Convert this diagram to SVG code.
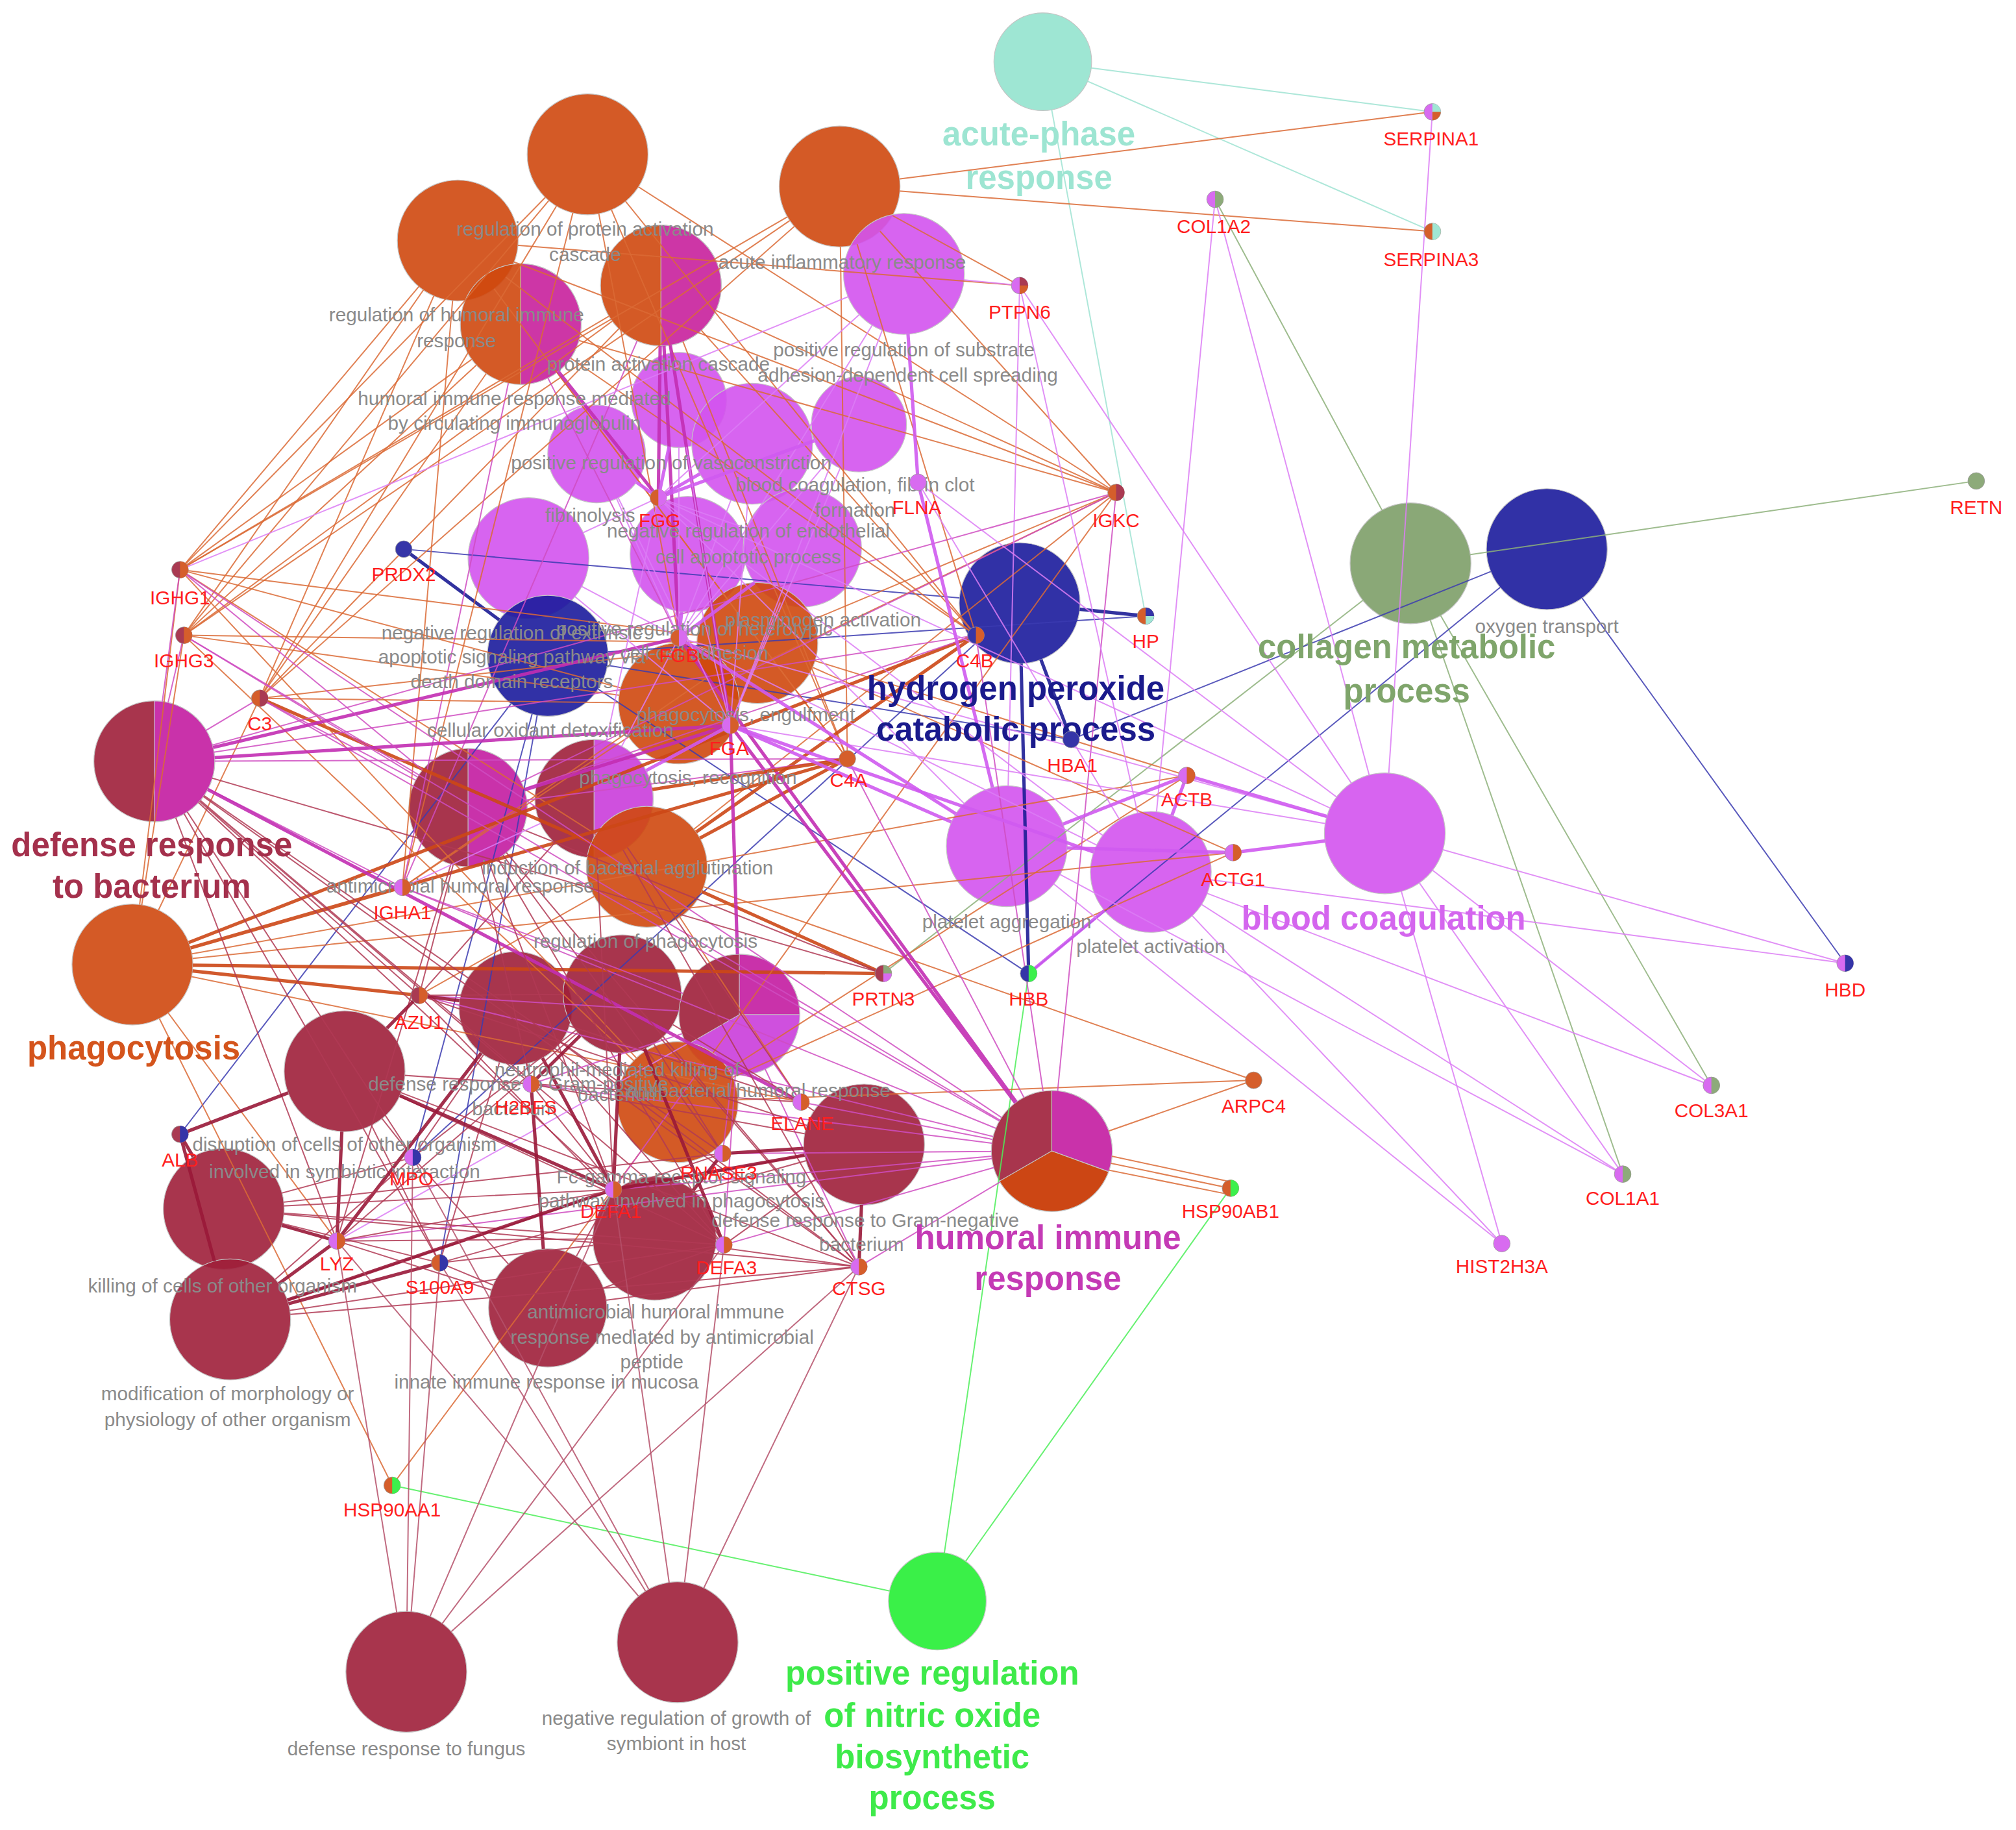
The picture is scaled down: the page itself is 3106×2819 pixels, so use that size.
<svg xmlns="http://www.w3.org/2000/svg" width="3106" height="2819" viewBox="0 0 3106 2819">
<style>
.e{fill:none;stroke-linecap:round;stroke-opacity:.85}
.te,.gg,.bg,.nv,.or,.mg,.vi,.dr,.dl{stroke-width:1}
.NV,.OR,.MG,.VI,.DR{stroke-width:2.6;stroke-opacity:.9}
.te{stroke:#9FE3D2}.gg{stroke:#8DB07A}.bg{stroke:#4BEF58}.nv{stroke:#3B3BB0}.NV{stroke:#1C1C95}
.or{stroke:#DA6A35}.OR{stroke:#CC4716}.mg{stroke:#CF4CC1}.MG{stroke:#C22DB3}
.vi{stroke:#DC7DF4}.VI{stroke:#CF5AF0}.dr{stroke:#B03A55}.DR{stroke:#991838}.dl{stroke:#B5506A}
.n{stroke:#c4c4c4;stroke-width:.6;fill-opacity:.9}
.s{stroke:#9a9a9a;stroke-width:.4}
.FO{fill:#CF480E}.FD{fill:#9E1F3A}.FV{fill:#D353EE}.FM{fill:#CC32B5}.FN{fill:#1B1B9C}.FG{fill:#7D9E68}.FT{fill:#93E3CE}.FB{fill:#25EE34}
.co{fill:#D55E2B}.cd{fill:#A93A52}.cv{fill:#D86BF0}.cn{fill:#3535A8}.cg{fill:#8DAA7A}.ct{fill:#A0E6D3}.cb{fill:#3CF04C}
.go{font-family:"Liberation Sans",Arial,sans-serif;font-size:15px;fill:#8a8a8a;text-anchor:middle}
.gn{font-family:"Liberation Sans",Arial,sans-serif;font-size:15px;fill:#FF1E1E;text-anchor:middle}
.big{font-family:"Liberation Sans",Arial,sans-serif;font-size:25.7px;font-weight:bold;text-anchor:middle}
</style>
<defs>
<path id="rh" d="M0 -6.5A6.5 6.5 0 0 1 0 6.5Z"/>
<path id="bq" d="M0 0L6.5 0A6.5 6.5 0 0 1 0 6.5Z"/>
<rect id="W" width="1570" height="1425" fill="#fff"/>
<mask id="mACU" maskUnits="userSpaceOnUse" x="0" y="0" width="1570" height="1425"><use href="#W"/><circle cx="811" cy="48" r="38"/></mask>
<mask id="mCOLL" maskUnits="userSpaceOnUse" x="0" y="0" width="1570" height="1425"><use href="#W"/><circle cx="1097" cy="438" r="47"/></mask>
<mask id="mGRN" maskUnits="userSpaceOnUse" x="0" y="0" width="1570" height="1425"><use href="#W"/><circle cx="729" cy="1245" r="38"/></mask>
<mask id="mB3" maskUnits="userSpaceOnUse" x="0" y="0" width="1570" height="1425"><use href="#W"/><circle cx="1203" cy="427" r="47"/></mask>
<mask id="mB2" maskUnits="userSpaceOnUse" x="0" y="0" width="1570" height="1425"><use href="#W"/><circle cx="793" cy="469" r="47"/></mask>
<mask id="mB1" maskUnits="userSpaceOnUse" x="0" y="0" width="1570" height="1425"><use href="#W"/><circle cx="426" cy="510" r="47"/></mask>
<mask id="mO1" maskUnits="userSpaceOnUse" x="0" y="0" width="1570" height="1425"><use href="#W"/><circle cx="457" cy="120" r="47"/></mask>
<mask id="mO2" maskUnits="userSpaceOnUse" x="0" y="0" width="1570" height="1425"><use href="#W"/><circle cx="356" cy="187" r="47"/></mask>
<mask id="mO3" maskUnits="userSpaceOnUse" x="0" y="0" width="1570" height="1425"><use href="#W"/><circle cx="653" cy="145" r="47"/></mask>
<mask id="mH1" maskUnits="userSpaceOnUse" x="0" y="0" width="1570" height="1425"><use href="#W"/><circle cx="405" cy="252" r="47"/></mask>
<mask id="mH2" maskUnits="userSpaceOnUse" x="0" y="0" width="1570" height="1425"><use href="#W"/><circle cx="514" cy="222" r="47"/></mask>
<mask id="mO4" maskUnits="userSpaceOnUse" x="0" y="0" width="1570" height="1425"><use href="#W"/><circle cx="589" cy="500" r="47"/></mask>
<mask id="mO5" maskUnits="userSpaceOnUse" x="0" y="0" width="1570" height="1425"><use href="#W"/><circle cx="528" cy="547" r="47"/></mask>
<mask id="mO6" maskUnits="userSpaceOnUse" x="0" y="0" width="1570" height="1425"><use href="#W"/><circle cx="503" cy="674" r="47"/></mask>
<mask id="mO7" maskUnits="userSpaceOnUse" x="0" y="0" width="1570" height="1425"><use href="#W"/><circle cx="103" cy="750" r="47"/></mask>
<mask id="mO8" maskUnits="userSpaceOnUse" x="0" y="0" width="1570" height="1425"><use href="#W"/><circle cx="527" cy="857" r="47"/></mask>
<mask id="mD13" maskUnits="userSpaceOnUse" x="0" y="0" width="1570" height="1425"><use href="#W"/><circle cx="818" cy="895" r="47"/></mask>
<mask id="mD1" maskUnits="userSpaceOnUse" x="0" y="0" width="1570" height="1425"><use href="#W"/><circle cx="120" cy="592" r="47"/></mask>
<mask id="mD2" maskUnits="userSpaceOnUse" x="0" y="0" width="1570" height="1425"><use href="#W"/><circle cx="364" cy="628" r="46"/></mask>
<mask id="mD3" maskUnits="userSpaceOnUse" x="0" y="0" width="1570" height="1425"><use href="#W"/><circle cx="462" cy="621" r="46"/></mask>
<mask id="mD6" maskUnits="userSpaceOnUse" x="0" y="0" width="1570" height="1425"><use href="#W"/><circle cx="575" cy="789" r="47"/></mask>
<mask id="mV11" maskUnits="userSpaceOnUse" x="0" y="0" width="1570" height="1425"><use href="#W"/><circle cx="1077" cy="648" r="47"/></mask>
<mask id="mV10" maskUnits="userSpaceOnUse" x="0" y="0" width="1570" height="1425"><use href="#W"/><circle cx="895" cy="678" r="47"/></mask>
<mask id="mV9" maskUnits="userSpaceOnUse" x="0" y="0" width="1570" height="1425"><use href="#W"/><circle cx="783" cy="658" r="47"/></mask>
<mask id="mV1" maskUnits="userSpaceOnUse" x="0" y="0" width="1570" height="1425"><use href="#W"/><circle cx="703" cy="213" r="47"/></mask>
<mask id="mV2" maskUnits="userSpaceOnUse" x="0" y="0" width="1570" height="1425"><use href="#W"/><circle cx="668" cy="330" r="37"/></mask>
<mask id="mV3" maskUnits="userSpaceOnUse" x="0" y="0" width="1570" height="1425"><use href="#W"/><circle cx="528" cy="311" r="37"/></mask>
<mask id="mV4" maskUnits="userSpaceOnUse" x="0" y="0" width="1570" height="1425"><use href="#W"/><circle cx="585" cy="345" r="47"/></mask>
<mask id="mV5" maskUnits="userSpaceOnUse" x="0" y="0" width="1570" height="1425"><use href="#W"/><circle cx="464" cy="353" r="38"/></mask>
<mask id="mV6" maskUnits="userSpaceOnUse" x="0" y="0" width="1570" height="1425"><use href="#W"/><circle cx="411" cy="434" r="47"/></mask>
<mask id="mV7" maskUnits="userSpaceOnUse" x="0" y="0" width="1570" height="1425"><use href="#W"/><circle cx="535" cy="431" r="45"/></mask>
<mask id="mV8" maskUnits="userSpaceOnUse" x="0" y="0" width="1570" height="1425"><use href="#W"/><circle cx="624" cy="426" r="46"/></mask>
<mask id="mD4" maskUnits="userSpaceOnUse" x="0" y="0" width="1570" height="1425"><use href="#W"/><circle cx="401" cy="784" r="44"/></mask>
<mask id="mD5" maskUnits="userSpaceOnUse" x="0" y="0" width="1570" height="1425"><use href="#W"/><circle cx="484" cy="773" r="46"/></mask>
<mask id="mD7" maskUnits="userSpaceOnUse" x="0" y="0" width="1570" height="1425"><use href="#W"/><circle cx="268" cy="833" r="47"/></mask>
<mask id="mD8" maskUnits="userSpaceOnUse" x="0" y="0" width="1570" height="1425"><use href="#W"/><circle cx="174" cy="940" r="47"/></mask>
<mask id="mD9" maskUnits="userSpaceOnUse" x="0" y="0" width="1570" height="1425"><use href="#W"/><circle cx="179" cy="1026" r="47"/></mask>
<mask id="mD10" maskUnits="userSpaceOnUse" x="0" y="0" width="1570" height="1425"><use href="#W"/><circle cx="426" cy="1017" r="46"/></mask>
<mask id="mD11" maskUnits="userSpaceOnUse" x="0" y="0" width="1570" height="1425"><use href="#W"/><circle cx="509" cy="963" r="48"/></mask>
<mask id="mD12" maskUnits="userSpaceOnUse" x="0" y="0" width="1570" height="1425"><use href="#W"/><circle cx="672" cy="890" r="47"/></mask>
<mask id="mD14" maskUnits="userSpaceOnUse" x="0" y="0" width="1570" height="1425"><use href="#W"/><circle cx="316" cy="1300" r="47"/></mask>
<mask id="mD15" maskUnits="userSpaceOnUse" x="0" y="0" width="1570" height="1425"><use href="#W"/><circle cx="527" cy="1277" r="47"/></mask>
</defs>
<rect width="3106" height="2819" fill="#ffffff"/>
<g transform="scale(1.981)">
<g id="go-nodes">
<g id="go-acute-phase-response"><circle class="n FT" cx="811" cy="48" r="38"/></g>
<g id="go-regulation-of-protein-activation-cascade"><circle class="n FO" cx="457" cy="120" r="47"/></g>
<g id="go-regulation-of-humoral-immune-response"><circle class="n FO" cx="356" cy="187" r="47"/></g>
<g id="go-acute-inflammatory-response"><circle class="n FO" cx="653" cy="145" r="47"/></g>
<g id="go-humoral-immune-response-mediated-by-circulating-immunoglobulin"><circle class="n FO" cx="405" cy="252" r="47"/><path class="n FM" d="M405 205A47 47 0 0 1 405 299Z"/></g>
<g id="go-protein-activation-cascade"><circle class="n FO" cx="514" cy="222" r="47"/><path class="n FM" d="M514 175A47 47 0 0 1 514 269Z"/></g>
<g id="go-positive-regulation-of-substrate-adhesion-dependent-cell-spreading"><circle class="n FV" cx="703" cy="213" r="47"/></g>
<g id="go-positive-regulation-of-vasoconstriction"><circle class="n FV" cx="528" cy="311" r="37"/></g>
<g id="go-blood-coagulation-fibrin-clot-formation"><circle class="n FV" cx="668" cy="330" r="37"/></g>
<g id="go-negative-regulation-of-endothelial-cell-apoptotic-process"><circle class="n FV" cx="585" cy="345" r="47"/></g>
<g id="go-fibrinolysis"><circle class="n FV" cx="464" cy="353" r="38"/></g>
<g id="go-negative-regulation-of-extrinsic-apoptotic-signaling-pathway"><circle class="n FV" cx="411" cy="434" r="47"/></g>
<g id="go-positive-regulation-of-heterotypic-cell-cell-adhesion"><circle class="n FV" cx="535" cy="431" r="45"/></g>
<g id="go-plasminogen-activation"><circle class="n FV" cx="624" cy="426" r="46"/></g>
<g id="go-cellular-oxidant-detoxification"><circle class="n FN" cx="426" cy="510" r="47"/></g>
<g id="go-phagocytosis-engulfment"><circle class="n FO" cx="589" cy="500" r="47"/></g>
<g id="go-phagocytosis-recognition"><circle class="n FO" cx="528" cy="547" r="47"/></g>
<g id="go-hydrogen-peroxide-catabolic-process"><circle class="n FN" cx="793" cy="469" r="47"/></g>
<g id="go-collagen-metabolic-process"><circle class="n FG" cx="1097" cy="438" r="47"/></g>
<g id="go-oxygen-transport"><circle class="n FN" cx="1203" cy="427" r="47"/></g>
<g id="go-defense-response-to-bacterium"><circle class="n FD" cx="120" cy="592" r="47"/><path class="n FM" d="M120 545A47 47 0 0 1 120 639Z"/></g>
<g id="go-antimicrobial-humoral-response"><circle class="n FD" cx="364" cy="628" r="46"/><path class="n FM" d="M364 582A46 46 0 0 1 364 674Z"/></g>
<g id="go-induction-of-bacterial-agglutination"><circle class="n FD" cx="462" cy="621" r="46"/><path class="n FV" d="M462 575A46 46 0 0 1 462 667Z"/></g>
<g id="go-regulation-of-phagocytosis"><circle class="n FO" cx="503" cy="674" r="47"/></g>
<g id="go-platelet-aggregation"><circle class="n FV" cx="783" cy="658" r="47"/></g>
<g id="go-platelet-activation"><circle class="n FV" cx="895" cy="678" r="47"/></g>
<g id="go-blood-coagulation"><circle class="n FV" cx="1077" cy="648" r="47"/></g>
<g id="go-phagocytosis"><circle class="n FO" cx="103" cy="750" r="47"/></g>
<g id="go-defense-response-to-gram-positive-bacterium"><circle class="n FD" cx="401" cy="784" r="44"/></g>
<g id="go-neutrophil-mediated-killing-of-bacterium"><circle class="n FD" cx="484" cy="773" r="46"/></g>
<g id="go-antibacterial-humoral-response"><circle class="n FD" cx="575" cy="789" r="47"/><path class="n FM" d="M575 789L575 742A47 47 0 0 1 622 789Z"/><path class="n FV" d="M575 789L622 789A47 47 0 0 1 534.3 812.5Z"/></g>
<g id="go-disruption-of-cells-of-other-organism"><circle class="n FD" cx="268" cy="833" r="47"/></g>
<g id="go-fc-gamma-receptor-signaling-pathway-involved-in-phagocytosis"><circle class="n FO" cx="527" cy="857" r="47"/></g>
<g id="go-defense-response-to-gram-negative-bacterium"><circle class="n FD" cx="672" cy="890" r="47"/></g>
<g id="go-humoral-immune-response"><circle class="n FD" cx="818" cy="895" r="47"/><path class="n FM" d="M818 895L818 848A47 47 0 0 1 862.2 911.1Z"/><path class="n FO" d="M818 895L862.2 911.1A47 47 0 0 1 777.3 918.5Z"/></g>
<g id="go-killing-of-cells-of-other-organism"><circle class="n FD" cx="174" cy="940" r="47"/></g>
<g id="go-modification-of-morphology-or-physiology-of-other-organism"><circle class="n FD" cx="179" cy="1026" r="47"/></g>
<g id="go-antimicrobial-humoral-immune-response-mediated-by-antimicrobial-peptide"><circle class="n FD" cx="509" cy="963" r="48"/></g>
<g id="go-innate-immune-response-in-mucosa"><circle class="n FD" cx="426" cy="1017" r="46"/></g>
<g id="go-positive-regulation-of-nitric-oxide-biosynthetic-process"><circle class="n FB" cx="729" cy="1245" r="38"/></g>
<g id="go-defense-response-to-fungus"><circle class="n FD" cx="316" cy="1300" r="47"/></g>
<g id="go-negative-regulation-of-growth-of-symbiont-in-host"><circle class="n FD" cx="527" cy="1277" r="47"/></g>
</g>
<g id="connectors">
<g mask="url(#mACU)"><path class="e te" d="M811 48L1114 87M811 48L1114 180M811 48L891 479"/></g>
<g mask="url(#mCOLL)"><path class="e gg" d="M1097 438L945 155M1097 438L1331 844M1097 438L1262 913M1097 438L1537 374M1097 438L687 757"/></g>
<g mask="url(#mGRN)"><path class="e bg" d="M729 1245L305 1155M729 1245L957 924M729 1245L800 757"/></g>
<g mask="url(#mB3)"><path class="e nv" d="M1203 427L1435 749M1203 427L800 757M1203 427L833 575"/></g>
<g mask="url(#mB2)"><path class="e nv" d="M793 469L314 427M793 469L321 900"/><path class="e NV" d="M793 469L891 479M793 469L833 575M793 469L800 757"/></g>
<g mask="url(#mB1)"><path class="e nv" d="M426 510L891 479M426 510L800 757M426 510L833 575M426 510L140 882M426 510L342 982M426 510L321 900"/><path class="e NV" d="M426 510L314 427"/></g>
<g mask="url(#mO1)"><path class="e or" d="M457 120L140 443M457 120L143 494M457 120L202 543M457 120L868 383M457 120L659 590M457 120L759 494M457 120L528 496M457 120L313 690"/></g>
<g mask="url(#mO2)"><path class="e or" d="M356 187L140 443M356 187L143 494M356 187L202 543M356 187L868 383M356 187L659 590M356 187L759 494M356 187L313 690M356 187L793 222"/></g>
<g mask="url(#mO3)"><path class="e or" d="M653 145L140 443M653 145L143 494M653 145L202 543M653 145L868 383M653 145L1114 87M653 145L1114 180M653 145L659 590M653 145L759 494M653 145L793 222"/></g>
<g mask="url(#mH1)"><path class="e or" d="M405 252L140 443M405 252L143 494M405 252L202 543M405 252L868 383M405 252L659 590M405 252L759 494"/><path class="e mg" d="M405 252L313 690M405 252L528 496"/><path class="e MG" d="M405 252L512 387"/></g>
<g mask="url(#mH2)"><path class="e or" d="M514 222L140 443M514 222L143 494M514 222L202 543M514 222L868 383M514 222L659 590M514 222L759 494"/><path class="e mg" d="M514 222L313 690"/><path class="e MG" d="M514 222L512 387M514 222L528 496M514 222L568 564"/></g>
<g mask="url(#mO4)"><path class="e or" d="M589 500L140 443M589 500L143 494M589 500L202 543M589 500L868 383M589 500L313 690M589 500L923 603M589 500L959 663"/></g>
<g mask="url(#mO5)"><path class="e or" d="M528 547L140 443M528 547L143 494M528 547L868 383M528 547L313 690M528 547L202 543"/></g>
<g mask="url(#mO6)"><path class="e or" d="M503 674L140 443M503 674L868 383M503 674L326 774M503 674L623 857M503 674L975 840"/><path class="e OR" d="M503 674L202 543M503 674L687 757M503 674L659 590M503 674L759 494"/></g>
<g mask="url(#mO7)"><path class="e or" d="M103 750L202 543M103 750L140 443M103 750L143 494M103 750L923 603M103 750L959 663M103 750L623 857M103 750L305 1155M103 750L262 965"/><path class="e OR" d="M103 750L659 590M103 750L759 494M103 750L687 757M103 750L326 774M103 750L313 690"/></g>
<g mask="url(#mO8)"><path class="e or" d="M527 857L140 443M527 857L143 494M527 857L868 383M527 857L923 603M527 857L959 663M527 857L975 840M527 857L305 1155"/></g>
<g mask="url(#mD13)"><path class="e or" d="M818 895L957 924M818 889L957 919M818 901L957 929M818 895L975 840"/><path class="e mg" d="M818 895L140 443M818 895L143 494M818 895L202 543M818 895L313 690M818 895L868 383M818 895L659 590M818 895L759 494M818 895L477 925M818 895L563 968M818 895L668 985M818 895L623 857M818 895L562 897M818 895L413 843M818 895L326 774M818 895L262 965"/><path class="e MG" d="M818 895L568 564M818 895L528 496"/></g>
<g mask="url(#mD1)"><path class="e mg" d="M120 592L140 443M120 592L143 494M120 592L202 543M120 592L313 690M120 592L868 383M120 592L759 494M120 592L659 590"/><path class="e MG" d="M120 592L528 496M120 592L568 564M120 592L623 857"/><path class="e dr" d="M120 592L326 774M120 592L413 843M120 592L477 925M120 592L563 968M120 592L668 985M120 592L262 965M120 592L562 897M120 592L321 900M120 592L342 982M120 592L687 757"/></g>
<g mask="url(#mD2)"><path class="e mg" d="M364 628L140 443M364 628L143 494M364 628L202 543M364 628L868 383M364 628L659 590M364 628L759 494"/><path class="e MG" d="M364 628L568 564"/><path class="e dr" d="M364 628L326 774M364 628L413 843M364 628L477 925M364 628L563 968M364 628L668 985M364 628L262 965M364 628L562 897M364 628L687 757"/></g>
<g mask="url(#mD3)"><path class="e OR" d="M462 621L659 590"/><path class="e vi" d="M462 621L528 496M462 621L512 387M462 621L313 690"/><path class="e VI" d="M462 621L568 564"/><path class="e dr" d="M462 621L326 774M462 621L477 925M462 621L623 857M462 621L668 985"/></g>
<g mask="url(#mD6)"><path class="e mg" d="M575 789L477 925M575 789L563 968M575 789L668 985M575 789L623 857M575 789L562 897M575 789L413 843M575 789L326 774M575 789L313 690"/><path class="e MG" d="M575 789L568 564"/><path class="e vi" d="M575 789L262 965"/></g>
<g mask="url(#mV11)"><path class="e vi" d="M1077 648L1114 87M1077 648L945 155M1077 648L793 222M1077 648L1435 749M1077 648L1331 844M1077 648L1262 913M1077 648L1168 967M1077 648L568 564M1077 648L528 496M1077 648L512 387M1077 648L714 375"/><path class="e VI" d="M1077 648L923 603M1077 648L959 663"/></g>
<g mask="url(#mV10)"><path class="e vi" d="M895 678L945 155M895 678L1331 844M895 678L1262 913M895 678L1168 967M895 678L714 375M895 678L528 496M895 678L512 387M895 678L793 222M895 678L1435 749"/><path class="e VI" d="M895 678L923 603M895 678L568 564M895 678L800 757"/></g>
<g mask="url(#mV9)"><path class="e vi" d="M783 658L512 387M783 658L793 222M783 658L1168 967M783 658L1262 913"/><path class="e VI" d="M783 658L923 603M783 658L959 663M783 658L568 564M783 658L528 496M783 658L714 375"/></g>
<g mask="url(#mV1)"><path class="e vi" d="M703 213L793 222M703 213L568 564M703 213L528 496M703 213L512 387M703 213L140 443"/><path class="e VI" d="M703 213L714 375"/></g>
<g mask="url(#mV2)"><path class="e vi" d="M668 330L568 564M668 330L528 496"/><path class="e VI" d="M668 330L512 387"/></g>
<g mask="url(#mV3)"><path class="e vi" d="M528 311L568 564M528 311L528 496"/><path class="e VI" d="M528 311L512 387"/></g>
<g mask="url(#mV4)"><path class="e vi" d="M585 345L568 564M585 345L528 496"/><path class="e VI" d="M585 345L512 387"/></g>
<g mask="url(#mV5)"><path class="e vi" d="M464 353L568 564M464 353L528 496"/><path class="e VI" d="M464 353L512 387"/></g>
<g mask="url(#mV6)"><path class="e vi" d="M411 434L568 564M411 434L528 496M411 434L512 387"/></g>
<g mask="url(#mV7)"><path class="e vi" d="M535 431L568 564M535 431L512 387"/><path class="e VI" d="M535 431L528 496"/></g>
<g mask="url(#mV8)"><path class="e vi" d="M624 426L568 564M624 426L512 387"/><path class="e VI" d="M624 426L528 496"/></g>
<g mask="url(#mD4)"><path class="e dr" d="M401 784L413 843M401 784L623 857M401 784L563 968M401 784L668 985M401 784L321 900M401 784L342 982"/><path class="e DR" d="M401 784L477 925M401 784L262 965M401 784L326 774"/></g>
<g mask="url(#mD5)"><path class="e dr" d="M484 773L326 774M484 773L262 965M484 773L623 857M484 773L668 985M484 773L562 897M484 773L321 900"/><path class="e DR" d="M484 773L477 925M484 773L563 968M484 773L413 843"/></g>
<g mask="url(#mD7)"><path class="e dr" d="M268 833L413 843M268 833L623 857M268 833L563 968M268 833L668 985M268 833L321 900M268 833L342 982"/><path class="e DR" d="M268 833L140 882M268 833L262 965M268 833L477 925M268 833L326 774"/></g>
<g mask="url(#mD8)"><path class="e dr" d="M174 940L477 925M174 940L563 968M174 940L668 985M174 940L342 982M174 940L321 900M174 940L562 897"/><path class="e DR" d="M174 940L140 882M174 940L262 965"/></g>
<g mask="url(#mD9)"><path class="e dr" d="M179 1026L563 968M179 1026L668 985M179 1026L562 897M179 1026L321 900"/><path class="e DR" d="M179 1026L140 882M179 1026L262 965M179 1026L477 925M179 1026L342 982"/></g>
<g mask="url(#mD10)"><path class="e dr" d="M426 1017L477 925M426 1017L563 968M426 1017L262 965M426 1017L342 982M426 1017L668 985M426 1017L321 900"/><path class="e DR" d="M426 1017L413 843"/></g>
<g mask="url(#mD11)"><path class="e dr" d="M509 963L477 925M509 963L563 968M509 963L262 965M509 963L342 982M509 963L668 985M509 963L326 774M509 963L413 843"/><path class="e DR" d="M509 963L562 897"/></g>
<g mask="url(#mD12)"><path class="e dr" d="M672 890L563 968M672 890L262 965M672 890L623 857M672 890L413 843M672 890L326 774M672 890L342 982"/><path class="e DR" d="M672 890L668 985M672 890L562 897M672 890L477 925"/></g>
<g mask="url(#mD14)"><path class="e dl" d="M316 1300L262 965M316 1300L321 900M316 1300L342 982M316 1300L477 925M316 1300L563 968M316 1300L668 985"/></g>
<g mask="url(#mD15)"><path class="e dl" d="M527 1277L321 900M527 1277L342 982M527 1277L477 925M527 1277L563 968M527 1277L668 985M527 1277L262 965"/></g>
</g>
<g id="go-labels">
<text class="go" x="455" y="183">regulation of protein activation</text><text class="go" x="455" y="203">cascade</text>
<text class="go" x="355" y="250">regulation of humoral immune</text><text class="go" x="355" y="270">response</text>
<text class="go" x="655" y="209">acute inflammatory response</text>
<text class="go" x="703" y="277">positive regulation of substrate</text><text class="go" x="706" y="297">adhesion-dependent cell spreading</text>
<text class="go" x="512" y="288">protein activation cascade</text>
<text class="go" x="400" y="315">humoral immune response mediated</text><text class="go" x="400" y="334">by circulating immunoglobulin</text>
<text class="go" x="522" y="365">positive regulation of vasoconstriction</text>
<text class="go" x="665" y="382">blood coagulation, fibrin clot</text><text class="go" x="665" y="402">formation</text>
<text class="go" x="459" y="406">fibrinolysis</text>
<text class="go" x="582" y="418">negative regulation of endothelial</text><text class="go" x="582" y="438">cell apoptotic process</text>
<text class="go" x="540" y="494">positive regulation of heterotypic</text><text class="go" x="540" y="513">cell-cell adhesion</text>
<text class="go" x="640" y="487">plasminogen activation</text>
<text class="go" x="398" y="497">negative regulation of extrinsic</text><text class="go" x="398" y="516">apoptotic signaling pathway via</text><text class="go" x="398" y="535">death domain receptors</text>
<text class="go" x="580" y="561">phagocytosis, engulfment</text>
<text class="go" x="428" y="573">cellular oxidant detoxification</text>
<text class="go" x="535" y="610">phagocytosis, recognition</text>
<text class="go" x="358" y="694">antimicrobial humoral response</text>
<text class="go" x="488" y="680">induction of bacterial agglutination</text>
<text class="go" x="502" y="737">regulation of phagocytosis</text>
<text class="go" x="783" y="722">platelet aggregation</text>
<text class="go" x="895" y="741">platelet activation</text>
<text class="go" x="1203" y="492">oxygen transport</text>
<text class="go" x="403" y="848">defense response to Gram-positive</text><text class="go" x="400" y="867">bacterium</text>
<text class="go" x="480" y="837">neutrophil-mediated killing of</text><text class="go" x="482" y="856">bacterium</text>
<text class="go" x="590" y="853">antibacterial humoral response</text>
<text class="go" x="268" y="895">disruption of cells of other organism</text><text class="go" x="268" y="916">involved in symbiotic interaction</text>
<text class="go" x="530" y="920">Fc-gamma receptor signaling</text><text class="go" x="530" y="939">pathway involved in phagocytosis</text>
<text class="go" x="673" y="954">defense response to Gram-negative</text><text class="go" x="670" y="973">bacterium</text>
<text class="go" x="173" y="1005">killing of cells of other organism</text>
<text class="go" x="177" y="1089">modification of morphology or</text><text class="go" x="177" y="1109">physiology of other organism</text>
<text class="go" x="510" y="1025">antimicrobial humoral immune</text><text class="go" x="515" y="1045">response mediated by antimicrobial</text><text class="go" x="507" y="1064">peptide</text>
<text class="go" x="425" y="1080">innate immune response in mucosa</text>
<text class="go" x="316" y="1365">defense response to fungus</text>
<text class="go" x="526" y="1341">negative regulation of growth of</text><text class="go" x="526" y="1361">symbiont in host</text>
</g>
<g id="group-labels">
<text class="big" fill="#9DE5D2" x="808" y="113">acute-phase</text><text class="big" fill="#9DE5D2" x="808" y="147">response</text>
<text class="big" fill="#7FA56B" x="1094" y="512">collagen metabolic</text><text class="big" fill="#7FA56B" x="1094" y="546">process</text>
<text class="big" fill="#1A1A8C" x="790" y="544">hydrogen peroxide</text><text class="big" fill="#1A1A8C" x="790" y="576">catabolic process</text>
<text class="big" fill="#A4304C" x="118" y="666">defense response</text><text class="big" fill="#A4304C" x="118" y="698">to bacterium</text>
<text class="big" fill="#D4541C" x="104" y="824">phagocytosis</text>
<text class="big" fill="#D466EE" x="1076" y="723">blood coagulation</text>
<text class="big" fill="#C43AB5" x="815" y="971">humoral immune</text><text class="big" fill="#C43AB5" x="815" y="1003">response</text>
<text class="big" fill="#3EEA4A" x="725" y="1310">positive regulation</text><text class="big" fill="#3EEA4A" x="725" y="1343">of nitric oxide</text><text class="big" fill="#3EEA4A" x="725" y="1375">biosynthetic</text><text class="big" fill="#3EEA4A" x="725" y="1407">process</text>
</g>
<g id="gene-nodes">
<g id="gene-SERPINA1"><circle class="s cv" cx="1114" cy="87" r="6.5"/><use href="#rh" x="1114" y="87" class="ct"/><use href="#bq" x="1114" y="87" class="co"/><text class="gn" x="1113" y="113">SERPINA1</text></g>
<g id="gene-SERPINA3"><circle class="s co" cx="1114" cy="180" r="6.5"/><use href="#rh" x="1114" y="180" class="ct"/><text class="gn" x="1113" y="207">SERPINA3</text></g>
<g id="gene-COL1A2"><circle class="s cv" cx="945" cy="155" r="6.5"/><use href="#rh" x="945" y="155" class="cg"/><text class="gn" x="944" y="181">COL1A2</text></g>
<g id="gene-PTPN6"><circle class="s cv" cx="793" cy="222" r="6.5"/><use href="#rh" x="793" y="222" class="cd"/><use href="#bq" x="793" y="222" class="co"/><text class="gn" x="793" y="248">PTPN6</text></g>
<g id="gene-FLNA"><circle class="s cv" cx="714" cy="375" r="6.5"/><text class="gn" x="713" y="400">FLNA</text></g>
<g id="gene-IGKC"><circle class="s co" cx="868" cy="383" r="6.5"/><use href="#rh" x="868" y="383" class="cd"/><text class="gn" x="868" y="410">IGKC</text></g>
<g id="gene-RETN"><circle class="s cg" cx="1537" cy="374" r="6.5"/><text class="gn" x="1537" y="400">RETN</text></g>
<g id="gene-PRDX2"><circle class="s cn" cx="314" cy="427" r="6.5"/><text class="gn" x="314" y="452">PRDX2</text></g>
<g id="gene-FGG"><circle class="s co" cx="512" cy="387" r="6.5"/><use href="#rh" x="512" y="387" class="cv"/><text class="gn" x="513" y="410">FGG</text></g>
<g id="gene-IGHG1"><circle class="s cd" cx="140" cy="443" r="6.5"/><use href="#rh" x="140" y="443" class="co"/><text class="gn" x="140" y="470">IGHG1</text></g>
<g id="gene-IGHG3"><circle class="s cd" cx="143" cy="494" r="6.5"/><use href="#rh" x="143" y="494" class="co"/><text class="gn" x="143" y="519">IGHG3</text></g>
<g id="gene-C3"><circle class="s co" cx="202" cy="543" r="6.5"/><use href="#rh" x="202" y="543" class="cd"/><text class="gn" x="202" y="568">C3</text></g>
<g id="gene-HP"><circle class="s co" cx="891" cy="479" r="6.5"/><use href="#rh" x="891" y="479" class="cn"/><use href="#bq" x="891" y="479" class="ct"/><text class="gn" x="891" y="504">HP</text></g>
<g id="gene-C4B"><circle class="s cn" cx="759" cy="494" r="6.5"/><use href="#rh" x="759" y="494" class="co"/><text class="gn" x="758" y="519">C4B</text></g>
<g id="gene-FGB"><circle class="s co" cx="528" cy="496" r="6.5"/><use href="#rh" x="528" y="496" class="cv"/><text class="gn" x="528" y="515">FGB</text></g>
<g id="gene-FGA"><circle class="s cv" cx="568" cy="564" r="6.5"/><use href="#rh" x="568" y="564" class="co"/><text class="gn" x="567" y="587">FGA</text></g>
<g id="gene-HBA1"><circle class="s cn" cx="833" cy="575" r="6.5"/><text class="gn" x="834" y="600">HBA1</text></g>
<g id="gene-C4A"><circle class="s co" cx="659" cy="590" r="6.5"/><text class="gn" x="660" y="612">C4A</text></g>
<g id="gene-ACTB"><circle class="s cv" cx="923" cy="603" r="6.5"/><use href="#rh" x="923" y="603" class="co"/><text class="gn" x="923" y="627">ACTB</text></g>
<g id="gene-ACTG1"><circle class="s cv" cx="959" cy="663" r="6.5"/><use href="#rh" x="959" y="663" class="co"/><text class="gn" x="959" y="689">ACTG1</text></g>
<g id="gene-IGHA1"><circle class="s cv" cx="313" cy="690" r="6.5"/><use href="#rh" x="313" y="690" class="co"/><text class="gn" x="313" y="715">IGHA1</text></g>
<g id="gene-PRTN3"><circle class="s cd" cx="687" cy="757" r="6.5"/><use href="#rh" x="687" y="757" class="cg"/><use href="#bq" x="687" y="757" class="cv"/><text class="gn" x="687" y="782">PRTN3</text></g>
<g id="gene-HBB"><circle class="s cn" cx="800" cy="757" r="6.5"/><use href="#rh" x="800" y="757" class="cb"/><text class="gn" x="800" y="782">HBB</text></g>
<g id="gene-HBD"><circle class="s cv" cx="1435" cy="749" r="6.5"/><use href="#rh" x="1435" y="749" class="cn"/><text class="gn" x="1435" y="775">HBD</text></g>
<g id="gene-AZU1"><circle class="s cd" cx="326" cy="774" r="6.5"/><use href="#rh" x="326" y="774" class="co"/><text class="gn" x="326" y="800">AZU1</text></g>
<g id="gene-H2BFS"><circle class="s cv" cx="413" cy="843" r="6.5"/><use href="#rh" x="413" y="843" class="co"/><text class="gn" x="409" y="866">H2BFS</text></g>
<g id="gene-ELANE"><circle class="s cv" cx="623" cy="857" r="6.5"/><use href="#rh" x="623" y="857" class="co"/><text class="gn" x="624" y="879">ELANE</text></g>
<g id="gene-ARPC4"><circle class="s co" cx="975" cy="840" r="6.5"/><text class="gn" x="975" y="865">ARPC4</text></g>
<g id="gene-ALB"><circle class="s cd" cx="140" cy="882" r="6.5"/><use href="#rh" x="140" y="882" class="cn"/><text class="gn" x="140" y="907">ALB</text></g>
<g id="gene-MPO"><circle class="s cv" cx="321" cy="900" r="6.5"/><use href="#rh" x="321" y="900" class="cn"/><text class="gn" x="320" y="922">MPO</text></g>
<g id="gene-RNASE3"><circle class="s cv" cx="562" cy="897" r="6.5"/><use href="#rh" x="562" y="897" class="co"/><text class="gn" x="559" y="917">RNASE3</text></g>
<g id="gene-DEFA1"><circle class="s cv" cx="477" cy="925" r="6.5"/><use href="#rh" x="477" y="925" class="co"/><text class="gn" x="475" y="947">DEFA1</text></g>
<g id="gene-COL3A1"><circle class="s cv" cx="1331" cy="844" r="6.5"/><use href="#rh" x="1331" y="844" class="cg"/><text class="gn" x="1331" y="869">COL3A1</text></g>
<g id="gene-HSP90AB1"><circle class="s co" cx="957" cy="924" r="6.5"/><use href="#rh" x="957" y="924" class="cb"/><text class="gn" x="957" y="947">HSP90AB1</text></g>
<g id="gene-LYZ"><circle class="s cv" cx="262" cy="965" r="6.5"/><use href="#rh" x="262" y="965" class="co"/><text class="gn" x="262" y="988">LYZ</text></g>
<g id="gene-DEFA3"><circle class="s cv" cx="563" cy="968" r="6.5"/><use href="#rh" x="563" y="968" class="co"/><text class="gn" x="565" y="991">DEFA3</text></g>
<g id="gene-S100A9"><circle class="s co" cx="342" cy="982" r="6.5"/><use href="#rh" x="342" y="982" class="cn"/><text class="gn" x="342" y="1006">S100A9</text></g>
<g id="gene-CTSG"><circle class="s cv" cx="668" cy="985" r="6.5"/><use href="#rh" x="668" y="985" class="co"/><text class="gn" x="668" y="1007">CTSG</text></g>
<g id="gene-COL1A1"><circle class="s cv" cx="1262" cy="913" r="6.5"/><use href="#rh" x="1262" y="913" class="cg"/><text class="gn" x="1262" y="937">COL1A1</text></g>
<g id="gene-HIST2H3A"><circle class="s cv" cx="1168" cy="967" r="6.5"/><text class="gn" x="1168" y="990">HIST2H3A</text></g>
<g id="gene-HSP90AA1"><circle class="s co" cx="305" cy="1155" r="6.5"/><use href="#rh" x="305" y="1155" class="cb"/><text class="gn" x="305" y="1179">HSP90AA1</text></g>
</g>
</g>
</svg>
